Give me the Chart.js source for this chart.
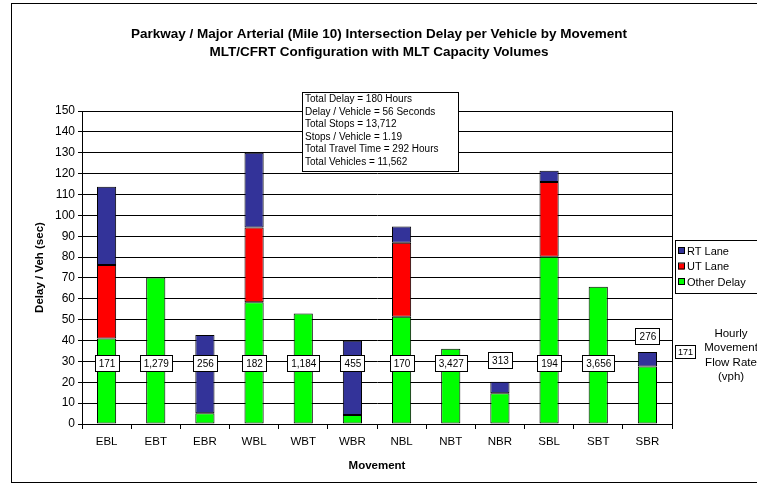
<!DOCTYPE html>
<html>
<head>
<meta charset="utf-8">
<script src="https://cdn.jsdelivr.net/npm/chart.js@4.4.1/dist/chart.umd.min.js"></script>
<style>
  html, body { margin: 0; padding: 0; background: #fff; }
  #wrap { width: 757px; height: 485px; }
</style>
</head>
<body>
<div id="wrap"><canvas id="delayChart" width="757" height="485"></canvas></div>
<script>
// movement categories and delay components (sec / veh)
const categories = ['EBL', 'EBT', 'EBR', 'WBL', 'WBT', 'WBR', 'NBL', 'NBT', 'NBR', 'SBL', 'SBT', 'SBR'];
const otherDelay = [41, 70.2, 5.1, 58.3, 53, 4.3, 51.4, 36.1, 14.7, 80.2, 65.8, 27.5];
const utLane     = [35.2, null, null, 35.9, null, null, 35.5, null, null, 35.8, null, null];
const rtLane     = [37.5, null, 37.5, 35.8, null, 35.6, 7.7, null, 5.6, 5.4, null, 7];

// hourly movement flow rate (vph) labels and the level they sit at
const flowRates  = ['171', '1,279', '256', '182', '1,184', '455', '170', '3,427', '313', '194', '3,656', '276'];
const flowLevel  = [29, 29, 29, 29, 29, 29, 29, 29, 30.6, 29, 29, 42];

const yTicks = { min: 0, max: 150, step: 10 };

const titleLines = [
    'Parkway / Major Arterial (Mile 10) Intersection Delay per Vehicle by Movement',
    'MLT/CFRT Configuration with MLT Capacity Volumes'
];
const summaryLines = [
    'Total Delay = 180 Hours',
    'Delay / Vehicle = 56 Seconds',
    'Total Stops = 13,712',
    'Stops / Vehicle = 1.19',
    'Total Travel Time = 292 Hours',
    'Total Vehicles = 11,562'
];

const FONT = '"Liberation Sans", Arial, sans-serif';

// draws frame, titles, summary box, legend and the flow rate boxes
const extras = {
    id: 'extras',
    beforeDraw(chart) {
        const c = chart.ctx;
        c.save();
        c.fillStyle = '#fff';
        c.fillRect(0, 0, chart.width, chart.height);
        c.strokeStyle = '#000';
        c.lineWidth = 1;
        c.strokeRect(11.5, 3.5, 800, 479);
        c.restore();
    },
    afterDatasetsDraw(chart) {
        const c = chart.ctx;
        const area = chart.chartArea;
        c.save();

        // right edge of plot
        c.strokeStyle = '#000';
        c.lineWidth = 1;
        c.beginPath();
        c.moveTo(Math.round(area.right) + 0.5, area.top);
        c.lineTo(Math.round(area.right) + 0.5, area.bottom);
        c.stroke();

        // title
        c.fillStyle = '#000';
        c.font = 'bold 13.5px ' + FONT;
        c.textAlign = 'center';
        c.textBaseline = 'middle';
        c.fillText(titleLines[0], 379, 34);
        c.fillText(titleLines[1], 379, 52);

        // flow rate boxes
        const meta = chart.getDatasetMeta(3);
        c.font = '10px ' + FONT;
        meta.data.forEach((pt, i) => {
            const w = Math.round(c.measureText(flowRates[i]).width) + 7;
            const h = 16;
            const x = Math.round(pt.x - w / 2);
            const y = Math.round(pt.y - h / 2);
            c.fillStyle = '#fff';
            c.fillRect(x, y, w, h);
            c.strokeStyle = '#000';
            c.strokeRect(x + 0.5, y + 0.5, w, h);
            c.fillStyle = '#000';
            c.fillText(flowRates[i], pt.x + 0.5, pt.y + 1);
        });

        // summary box
        c.font = '10px ' + FONT;
        c.fillStyle = '#fff';
        c.fillRect(302, 92, 156, 79);
        c.strokeStyle = '#000';
        c.strokeRect(302.5, 92.5, 156, 79);
        c.fillStyle = '#000';
        c.textAlign = 'left';
        summaryLines.forEach((t, i) => c.fillText(t, 305, 99.5 + i * 12.45));

        // legend (reverse stack order)
        c.fillStyle = '#fff';
        c.fillRect(675, 240, 90, 53);
        c.strokeStyle = '#000';
        c.strokeRect(675.5, 240.5, 90, 53);
        c.font = '11px ' + FONT;
        [2, 1, 0].forEach((d, k) => {
            const ds = chart.data.datasets[d];
            const yy = 251 + k * 15.5;
            c.fillStyle = ds.backgroundColor;
            c.fillRect(678, yy - 3, 6, 6);
            c.strokeStyle = '#000';
            c.strokeRect(678.5, yy - 3.5, 6, 6);
            c.fillStyle = '#000';
            c.fillText(ds.label, 687, yy + 0.5);
        });

        // flow rate key
        c.font = '9px ' + FONT;
        c.fillStyle = '#fff';
        c.fillRect(675, 345, 20, 13);
        c.strokeStyle = '#000';
        c.strokeRect(675.5, 345.5, 20, 13);
        c.fillStyle = '#000';
        c.textAlign = 'center';
        c.fillText('171', 685.5, 352.5);
        c.font = '11.5px ' + FONT;
        ['Hourly', 'Movement', 'Flow Rate', '(vph)'].forEach((t, i) => c.fillText(t, 731, 334 + i * 14.3));

        c.restore();
    }
};

const ctx = document.getElementById('delayChart').getContext('2d');
const delayChart = new Chart(ctx, {
    type: 'bar',
    data: {
        labels: categories,
        datasets: [
            { label: 'Other Delay', data: otherDelay, backgroundColor: '#00FF00', borderColor: '#000', borderWidth: 1, borderSkipped: false },
            { label: 'UT Lane', data: utLane, backgroundColor: '#FF0000', borderColor: '#000', borderWidth: 1, borderSkipped: false },
            { label: 'RT Lane', data: rtLane, backgroundColor: '#333399', borderColor: '#000', borderWidth: 1, borderSkipped: false },
            { type: 'line', label: 'Flow', data: flowLevel, stack: 'flow', showLine: false, pointRadius: 0, pointHoverRadius: 0 }
        ]
    },
    options: {
        responsive: false,
        animation: false,
        devicePixelRatio: 1,
        layout: { padding: { left: 30, right: 85, top: 111, bottom: 0 } },
        datasets: { bar: { categoryPercentage: 1, barPercentage: 0.39 } },
        plugins: {
            legend: { display: false },
            title: { display: false },
            tooltip: { enabled: false }
        },
        scales: {
            x: {
                stacked: true,
                grid: { offset: true, drawOnChartArea: false, drawTicks: true, tickLength: 5, color: '#000' },
                border: { color: '#000' },
                ticks: { color: '#000', font: { family: FONT, size: 11.5 }, padding: 6 },
                title: { display: true, text: 'Movement', color: '#000', font: { family: FONT, size: 11.5, weight: 'bold' }, padding: { top: 4, bottom: 12 } },
                afterFit(s) { s.height = 61; }
            },
            y: {
                stacked: true,
                min: yTicks.min,
                max: yTicks.max,
                ticks: { stepSize: yTicks.step, color: '#000', font: { family: FONT, size: 12 }, padding: 3 },
                grid: { color: '#000', tickLength: 4 },
                border: { color: '#000' },
                title: { display: true, text: 'Delay / Veh (sec)', color: '#000', font: { family: FONT, size: 11.5, weight: 'bold' }, padding: { top: 3, bottom: 0 } },
                afterFit(s) { s.width = 52; }
            }
        }
    },
    plugins: [extras]
});
</script>
</body>
</html>
